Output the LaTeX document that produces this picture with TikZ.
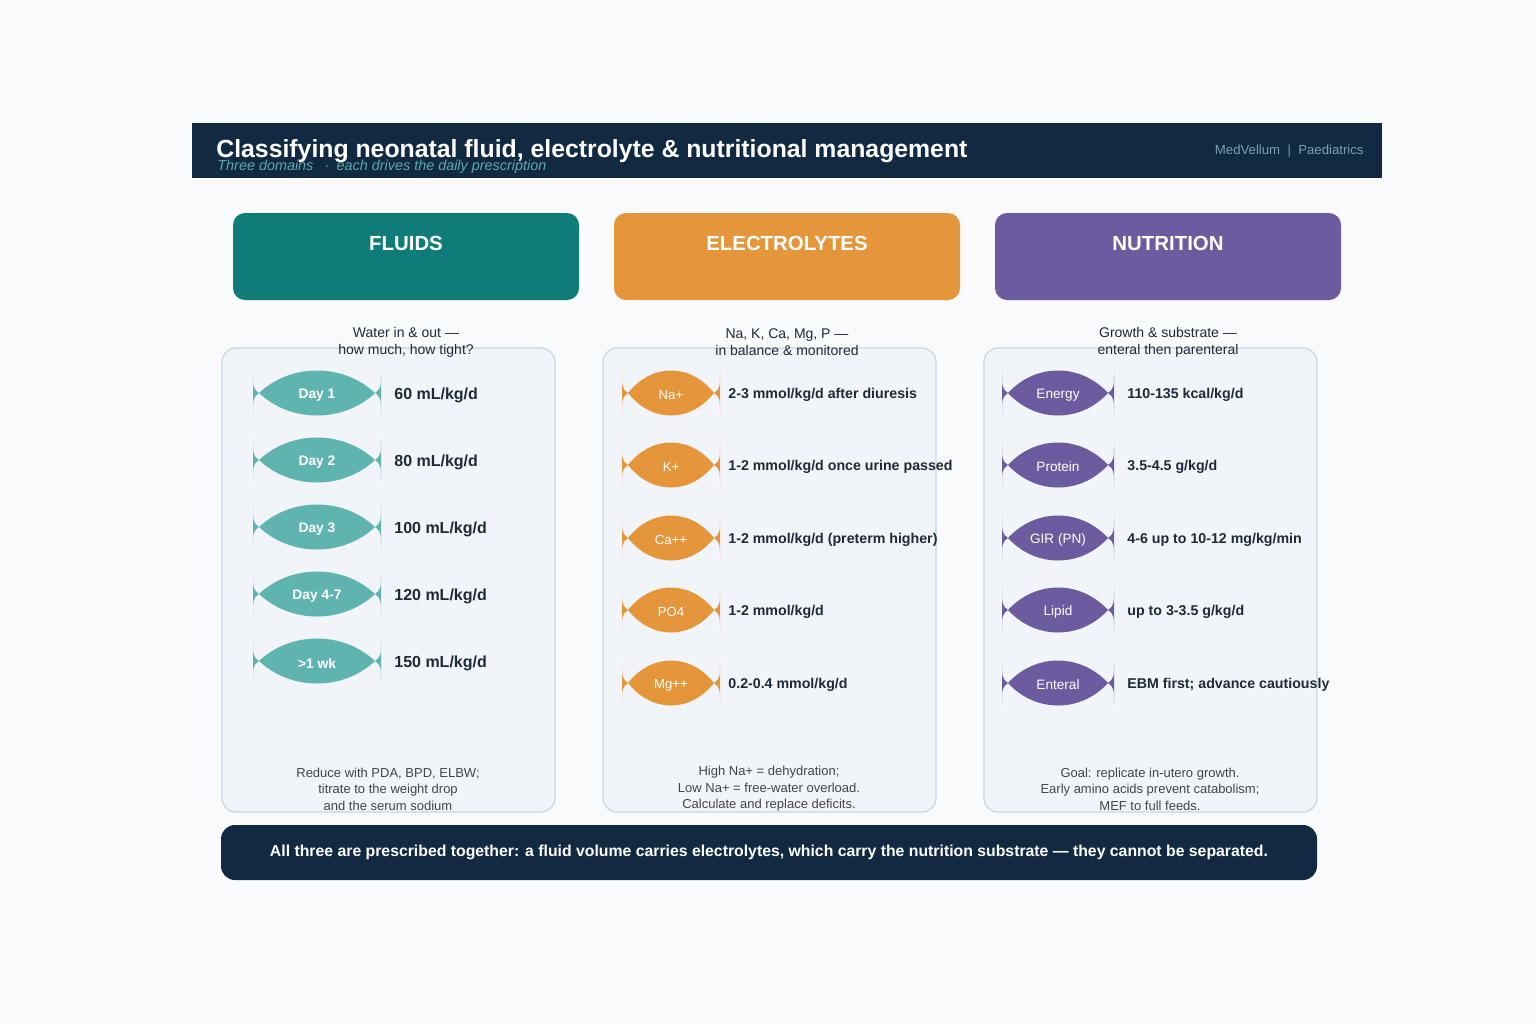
\documentclass[tikz,border=0pt]{standalone}
\usepackage{fontspec}
\setmainfont{Liberation Sans}
\usetikzlibrary{positioning}
\definecolor{PageBg}{RGB}{248,250,252}
\definecolor{NavyBar}{RGB}{17,42,66}
\definecolor{SubTeal}{RGB}{95,168,176}
\definecolor{BrandGrey}{RGB}{126,155,184}
\definecolor{FluidTeal}{RGB}{16,124,122}
\definecolor{FishTeal}{RGB}{96,180,175}
\definecolor{ElecOrange}{RGB}{230,150,58}
\definecolor{NutriPurple}{RGB}{108,91,159}
\definecolor{PanelFill}{RGB}{241,245,249}
\definecolor{PanelEdge}{RGB}{201,214,226}
\definecolor{InkDark}{RGB}{31,41,55}
\definecolor{InkSoft}{RGB}{68,68,72}

% lens-shaped tag with thin fins at both tips
\newcommand{\fishtag}[7]{%
  % #1 colour, #2 name, #3 x, #4 y, #5 half width, #6 font, #7 label
  \fill[#1] (#3-#5,#4) .. controls (#3-0.45*#5,#4-30) and (#3+0.45*#5,#4-30) .. (#3+#5,#4)
    .. controls (#3+0.45*#5,#4+30) and (#3-0.45*#5,#4+30) .. cycle;
  \fill[#1] (#3-#5-6,#4-22) .. controls (#3-#5-6,#4-5) .. (#3-#5,#4)
    .. controls (#3-#5-6,#4+5) .. (#3-#5-6,#4+22) -- cycle;
  \fill[#1] (#3+#5+6,#4-22) .. controls (#3+#5+6,#4-5) .. (#3+#5,#4)
    .. controls (#3+#5+6,#4+5) .. (#3+#5+6,#4+22) -- cycle;
  \node[fishtxt,font=#6] (#2) at (#3,#4) {#7};
}

\begin{document}
\begin{tikzpicture}[x=0.5pt,y=-0.5pt,
  headtxt/.style={text=white,font=\fontsize{10.2}{12}\selectfont\bfseries,anchor=base,inner sep=0},
  fishtxt/.style={text=white,inner sep=0,yshift=-1pt},
  introtxt/.style={text=InkDark,font=\fontsize{7}{8.5}\selectfont,align=center,inner sep=0},
  noteTxt/.style={text=InkSoft,font=\fontsize{6.5}{8.3}\selectfont,align=center,inner sep=0},
  valtxt/.style={text=InkDark,anchor=west,inner sep=0,yshift=-1pt},
  panel/.style={fill=PanelFill,draw=PanelEdge,line width=0.6pt,rounded corners=7pt}]

% canvas
\fill[PageBg] (0,0) rectangle (1536,1024);
\useasboundingbox (0,0) rectangle (1536,1024);

% title bar
\fill[NavyBar] (192,123) rectangle (1382,178);
\node[text=white,font=\fontsize{12.4}{14}\selectfont\bfseries,anchor=base west,inner sep=0]
  (title) at (216,157) {Classifying neonatal fluid, electrolyte \& nutritional management};
\node[text=SubTeal,font=\fontsize{7.2}{8}\selectfont\itshape,anchor=base west,inner sep=0]
  (subtitle) at (217,170) {Three domains \enspace·\enspace each drives the daily prescription};
\node[text=BrandGrey,font=\fontsize{6.6}{8}\selectfont,anchor=base east,inner sep=0]
  (brand) at (1364,154) {MedVellum \ | \ Paediatrics};

% column headers
\fill[FluidTeal,rounded corners=6pt] (233,213) rectangle (579,300);
\fill[ElecOrange,rounded corners=6pt] (614,213) rectangle (960,300);
\fill[NutriPurple,rounded corners=6pt] (995,213) rectangle (1341,300);
\node[headtxt] (fluids) at (406,250) {FLUIDS};
\node[headtxt] (elec) at (787,250) {ELECTROLYTES};
\node[headtxt] (nutri) at (1168,250) {NUTRITION};

% panels
\draw[panel] (222,348) rectangle (555,812);
\draw[panel] (603,348) rectangle (936,812);
\draw[panel] (984,348) rectangle (1317,812);

\node[introtxt] (fluidsIntro) at (406,342) {Water in \& out —\\how much, how tight?};
\node[introtxt] (elecIntro) at (787,342) {Na, K, Ca, Mg, P —\\in balance \& monitored};
\node[introtxt] (nutriIntro) at (1168,342) {Growth \& substrate —\\enteral then parenteral};

% fluids
\fishtag{FishTeal}{day1}{317}{393}{58}{\fontsize{6.9}{8}\selectfont\bfseries}{Day 1}
\fishtag{FishTeal}{day2}{317}{460}{58}{\fontsize{6.9}{8}\selectfont\bfseries}{Day 2}
\fishtag{FishTeal}{day3}{317}{527}{58}{\fontsize{6.9}{8}\selectfont\bfseries}{Day 3}
\fishtag{FishTeal}{day47}{317}{594}{58}{\fontsize{6.9}{8}\selectfont\bfseries}{Day 4-7}
\fishtag{FishTeal}{wk1}{317}{661}{58}{\fontsize{6.9}{8}\selectfont\bfseries}{>1 wk}
\begin{scope}[every node/.append style={font=\fontsize{8}{10}\selectfont\bfseries}]
  \node[valtxt] (day1v) at (394,393) {60 mL/kg/d};
  \node[valtxt] (day2v) at (394,460) {80 mL/kg/d};
  \node[valtxt] (day3v) at (394,527) {100 mL/kg/d};
  \node[valtxt] (day47v) at (394,594) {120 mL/kg/d};
  \node[valtxt] (wk1v) at (394,661) {150 mL/kg/d};
\end{scope}

% electrolytes
\fishtag{ElecOrange}{na}{671}{393}{43}{\fontsize{6.6}{8}\selectfont}{Na+}
\fishtag{ElecOrange}{k}{671}{465}{43}{\fontsize{6.6}{8}\selectfont}{K+}
\fishtag{ElecOrange}{ca}{671}{538}{43}{\fontsize{6.6}{8}\selectfont}{Ca++}
\fishtag{ElecOrange}{po}{671}{610}{43}{\fontsize{6.6}{8}\selectfont}{PO4}
\fishtag{ElecOrange}{mg}{671}{683}{43}{\fontsize{6.6}{8}\selectfont}{Mg++}
\begin{scope}[every node/.append style={font=\fontsize{7.1}{9}\selectfont\bfseries}]
  \node[valtxt] (nav) at (728,393) {2-3 mmol/kg/d after diuresis};
  \node[valtxt] (kv) at (728,465) {1-2 mmol/kg/d once urine passed};
  \node[valtxt] (cav) at (728,538) {1-2 mmol/kg/d (preterm higher)};
  \node[valtxt] (pov) at (728,610) {1-2 mmol/kg/d};
  \node[valtxt] (mgv) at (728,683) {0.2-0.4 mmol/kg/d};
\end{scope}

% nutrition
\fishtag{NutriPurple}{energy}{1058}{393}{50}{\fontsize{6.8}{8}\selectfont}{Energy}
\fishtag{NutriPurple}{protein}{1058}{465}{50}{\fontsize{6.8}{8}\selectfont}{Protein}
\fishtag{NutriPurple}{gir}{1058}{538}{50}{\fontsize{6.8}{8}\selectfont}{GIR (PN)}
\fishtag{NutriPurple}{lipid}{1058}{610}{50}{\fontsize{6.8}{8}\selectfont}{Lipid}
\fishtag{NutriPurple}{enteral}{1058}{683}{50}{\fontsize{6.8}{8}\selectfont}{Enteral}
\begin{scope}[every node/.append style={font=\fontsize{7.1}{9}\selectfont\bfseries}]
  \node[valtxt] (energyv) at (1127,393) {110-135 kcal/kg/d};
  \node[valtxt] (proteinv) at (1127,465) {3.5-4.5 g/kg/d};
  \node[valtxt] (girv) at (1127,538) {4-6 up to 10-12 mg/kg/min};
  \node[valtxt] (lipidv) at (1127,610) {up to 3-3.5 g/kg/d};
  \node[valtxt] (enteralv) at (1127,683) {EBM first; advance cautiously};
\end{scope}

% notes under each column
\node[noteTxt] (fluidsNote) at (388,789) {Reduce with PDA, BPD, ELBW;\\titrate to the weight drop\\and the serum sodium};
\node[noteTxt] (elecNote) at (769,789) {High Na+ = dehydration;\\Low Na+ = free-water overload.\\Calculate and replace deficits.};
\node[noteTxt] (nutriNote) at (1150,789) {Goal: replicate in-utero growth.\\Early amino acids prevent catabolism;\\MEF to full feeds.};

% bottom banner
\fill[NavyBar,rounded corners=7pt] (221,825) rectangle (1317,880);
\node[text=white,font=\fontsize{7.9}{10}\selectfont\bfseries,inner sep=0] (banner) at (769,852)
  {All three are prescribed together: a fluid volume carries electrolytes, which carry the nutrition substrate — they cannot be separated.};
\end{tikzpicture}
\end{document}
